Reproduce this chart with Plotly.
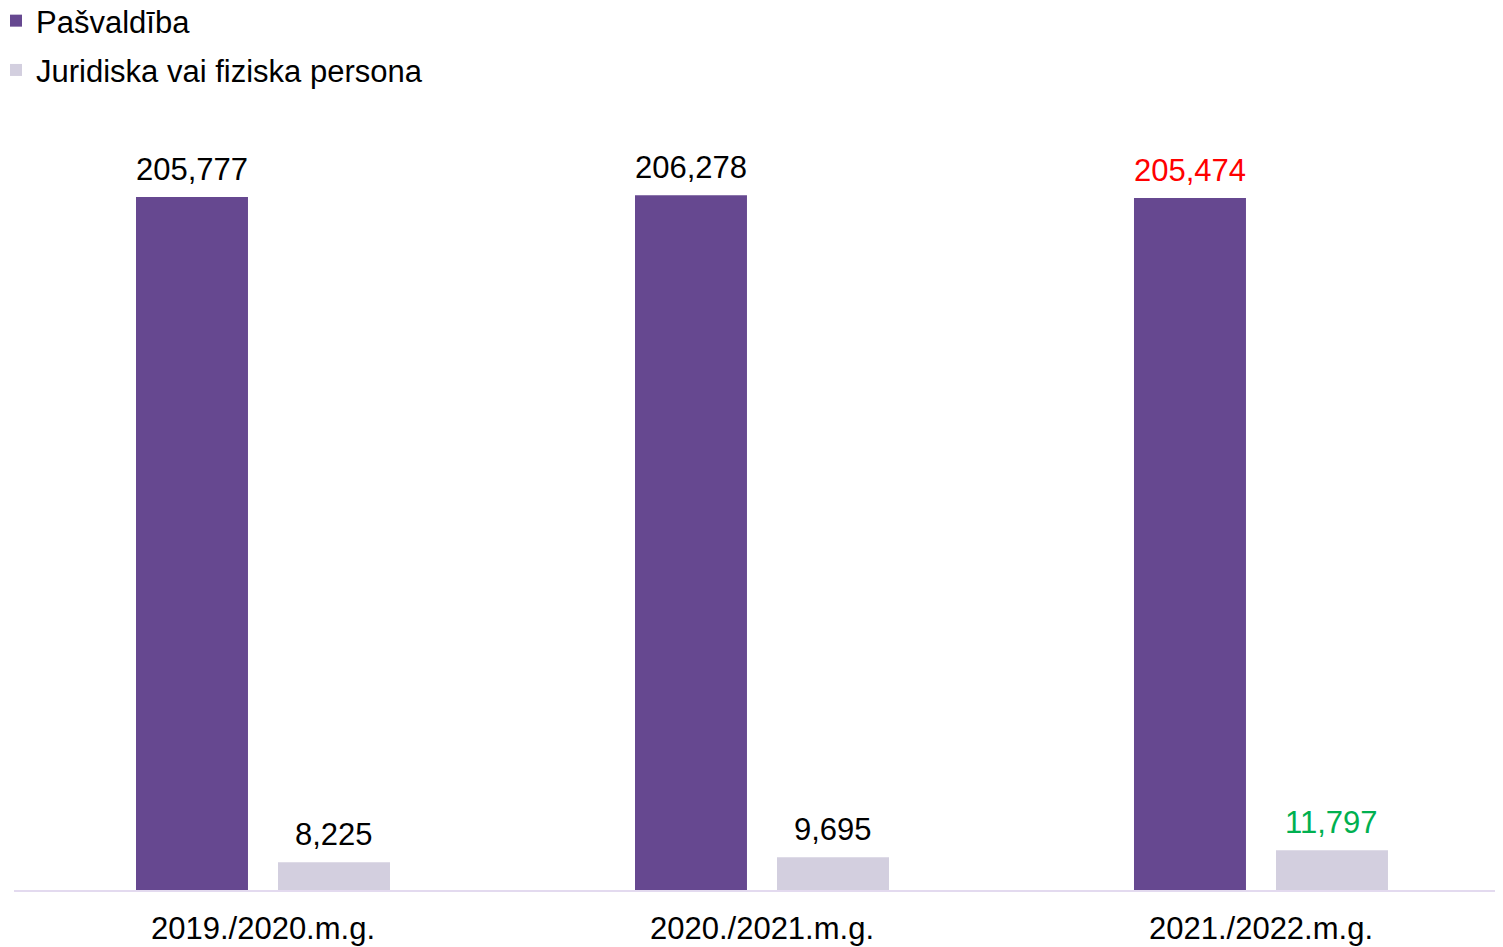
import plotly.graph_objects as go

categories = ["2019./2020.m.g.", "2020./2021.m.g.", "2021./2022.m.g."]
series_names = ["Pašvaldība", "Juridiska vai fiziska persona"]
pasvaldiba = [205777, 206278, 205474]
juridiska = [8225, 9695, 11797]
label_text_pasv = ["205,777", "206,278", "205,474"]
label_text_jur = ["8,225", "9,695", "11,797"]
label_color_pasv = ["#000000", "#000000", "#FF0000"]
label_color_jur = ["#000000", "#000000", "#00B050"]

purple = "#664890"
lilac = "#D3CFDF"
FONT = "Arial, Liberation Sans, sans-serif"
FS = 31

W, H = 1495, 939
ML, MR, MT, MB = 6, 0, 92, 57
PW, PH = W - ML - MR, H - MT - MB
bar_w = 0.2244
off_p = -0.2545
off_j = 0.0301

fig = go.Figure()
fig.add_trace(go.Bar(x=categories, y=pasvaldiba, name=series_names[0], legendgroup="a",
                     marker=dict(color=purple, line=dict(width=0)),
                     width=bar_w, offset=off_p))
fig.add_trace(go.Bar(x=categories, y=juridiska, name=series_names[1], legendgroup="b",
                     marker=dict(color=lilac, line=dict(width=0)),
                     width=bar_w, offset=off_j))

annotations = []
for i in range(len(categories)):
    annotations.append(dict(x=i + off_p + bar_w / 2, y=pasvaldiba[i], xref="x", yref="y",
                            text=label_text_pasv[i], showarrow=False, yanchor="bottom",
                            yshift=8, font=dict(family=FONT, size=FS, color=label_color_pasv[i])))
    annotations.append(dict(x=i + off_j + bar_w / 2, y=juridiska[i], xref="x", yref="y",
                            text=label_text_jur[i], showarrow=False, yanchor="bottom",
                            yshift=8, font=dict(family=FONT, size=FS, color=label_color_jur[i])))

fig.update_layout(
    width=W, height=H,
    barmode="overlay",
    plot_bgcolor="white", paper_bgcolor="white",
    margin=dict(l=ML, r=MR, t=MT, b=MB, autoexpand=False),
    font=dict(family=FONT, size=FS, color="#000000"),
    showlegend=True,
    legend=dict(orientation="v", x=-18 / PW, y=1 + (MT + 14) / PH, xref="paper", yref="paper",
                xanchor="left", yanchor="top", traceorder="grouped", tracegroupgap=6,
                font=dict(family=FONT, size=FS, color="#000000"),
                bgcolor="rgba(0,0,0,0)", itemclick=False),
    annotations=annotations,
    xaxis=dict(range=[-0.499, 2.485], showgrid=False, zeroline=False,
               showline=True, linecolor="#E3DAEF", linewidth=2,
               ticks="", ticklabelstandoff=10,
               tickfont=dict(family=FONT, size=FS, color="#000000")),
    yaxis=dict(range=[0, 234560], visible=False, showgrid=False, zeroline=False),
)

fig.write_html("out.html")
